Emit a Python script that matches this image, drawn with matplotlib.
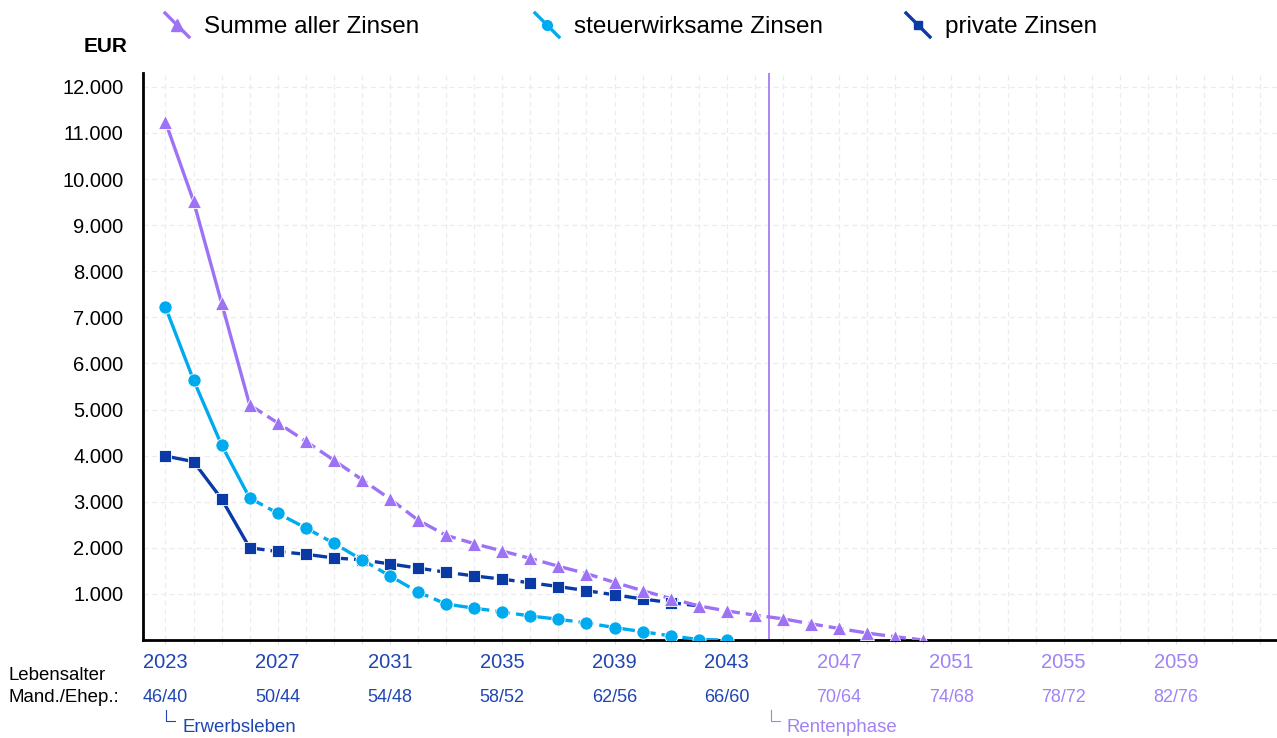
import matplotlib.pyplot as plt
from matplotlib.lines import Line2D
from matplotlib.transforms import blended_transform_factory
import numpy as np

plt.rcParams['font.family'] = ['Liberation Sans', 'DejaVu Sans']

# data (EUR per year)
years = list(range(2023, 2051))
summe = [11240, 9520, 7310, 5100, 4710, 4310, 3900, 3480, 3060, 2600, 2270, 2090, 1930, 1770,
         1600, 1440, 1250, 1070, 900, 740, 630, 540, 460, 350, 250, 150, 70, 0]
steuer_years = list(range(2023, 2044))
steuer = [7220, 5640, 4230, 3080, 2750, 2430, 2100, 1740, 1390, 1040, 780, 690, 610, 520,
          450, 370, 270, 180, 90, 10, 0]
privat_years = list(range(2023, 2043))
privat = [3990, 3870, 3060, 2000, 1920, 1860, 1780, 1740, 1650, 1560, 1470, 1390, 1320, 1240,
          1160, 1070, 980, 890, 810, 740]

label_years = list(range(2023, 2060, 4))
age_labels = ['%d/%d' % (y - 1977, y - 1983) for y in label_years]
ytick_vals = list(range(1000, 13000, 1000))
ytick_labels = ['{:,}'.format(v).replace(',', '.') for v in ytick_vals]
rente_start = 2044.5

C_SUM = '#9d72f5'
C_STE = '#00aaee'
C_PRI = '#0a3aa5'
C_TXT_BLUE = '#1e45b2'
C_TXT_PURP = '#a182f5'
W, H = 1277, 738

fig = plt.figure(figsize=(12.77, 7.38), dpi=100)
ax = fig.add_axes([143 / W, 1 - 640 / H, (W - 143) / W, (640 - 73) / H])

n_solid = 4  # first years drawn solid, the rest dashed
series = [
    # x, y, colour, marker, size, how many markers (private's last one sits under the sum)
    (privat_years, privat, C_PRI, 's', 8, len(privat) - 1),
    (steuer_years, steuer, C_STE, 'o', 9.5, len(steuer)),
    (years, summe, C_SUM, '^', 10.5, len(summe)),
]
for xs, ys, c, m, ms, nm in series:
    ax.plot(xs[:n_solid], ys[:n_solid], color=c, lw=2.4, solid_capstyle='butt', zorder=3)
    ax.plot(xs[n_solid - 1:], ys[n_solid - 1:], color=c, lw=2.4, dashes=(4.5, 1.8), zorder=3)
    ax.plot(xs[:nm], ys[:nm], linestyle='none', marker=m, ms=ms, color=c,
            markeredgecolor='white', markeredgewidth=0.6, zorder=4)

ax.axvline(rente_start, color=C_SUM, lw=1.2, zorder=2)

ax.set_xlim(2022.2, 2062.6)
ax.set_ylim(0, 12300)
ax.set_xticks(range(2023, 2063))
ax.set_xticklabels([])
ax.set_yticks(ytick_vals)
ax.set_yticklabels(ytick_labels, fontsize=14.5)
ax.tick_params(axis='y', length=0, pad=14)
ax.tick_params(axis='x', length=3, color='#dddddd')
ax.grid(True, color='#ececec', linestyle=(0, (4, 3)), lw=0.9)
ax.set_axisbelow(True)
for s in ['top', 'right']:
    ax.spines[s].set_visible(False)
ax.spines['left'].set_linewidth(2)
ax.spines['bottom'].set_linewidth(2)

# year and age rows
tr = blended_transform_factory(ax.transData, fig.transFigure)
for y, a in zip(label_years, age_labels):
    c = C_TXT_BLUE if y < rente_start else C_TXT_PURP
    ax.text(y, 1 - 663 / H, str(y), transform=tr, ha='center', va='center', fontsize=14.5, color=c)
    ax.text(y, 1 - 697 / H, a, transform=tr, ha='center', va='center', fontsize=13, color=c)

fig.text(8 / W, 1 - 675 / H, 'Lebensalter', fontsize=13.4, va='center')
fig.text(8 / W, 1 - 697 / H, 'Mand./Ehep.:', fontsize=13.4, va='center')
fig.text(106 / W, 1 - 47 / H, 'EUR', fontsize=15, fontweight='bold', ha='center', va='center')

# phase markers
for xpx, txt, c in [(166, 'Erwerbsleben', C_TXT_BLUE), (771, 'Rentenphase', C_TXT_PURP)]:
    fig.add_artist(Line2D([xpx / W, xpx / W, (xpx + 9) / W],
                          [1 - 710 / H, 1 - 721 / H, 1 - 721 / H], color=c, lw=0.8,
                          transform=fig.transFigure))
    fig.text((xpx + 16) / W, 1 - 727 / H, txt, fontsize=13.4, color=c, va='center')

# legend with diagonal handles
legend_items = [(165, 'Summe aller Zinsen', C_SUM, '^', 8),
                (535, 'steuerwirksame Zinsen', C_STE, 'o', 7),
                (906, 'private Zinsen', C_PRI, 's', 6)]
for xpx, txt, c, m, ms in legend_items:
    fig.add_artist(Line2D([xpx / W, (xpx + 24) / W], [1 - 13 / H, 1 - 37 / H], color=c, lw=2.4,
                          transform=fig.transFigure))
    fig.add_artist(Line2D([(xpx + 12) / W], [1 - 25 / H], color=c, marker=m, ms=ms,
                          linestyle='none', transform=fig.transFigure))
    fig.text((xpx + 39) / W, 1 - 27 / H, txt, fontsize=17.5, va='center')

fig.savefig('out.png', dpi=100)
